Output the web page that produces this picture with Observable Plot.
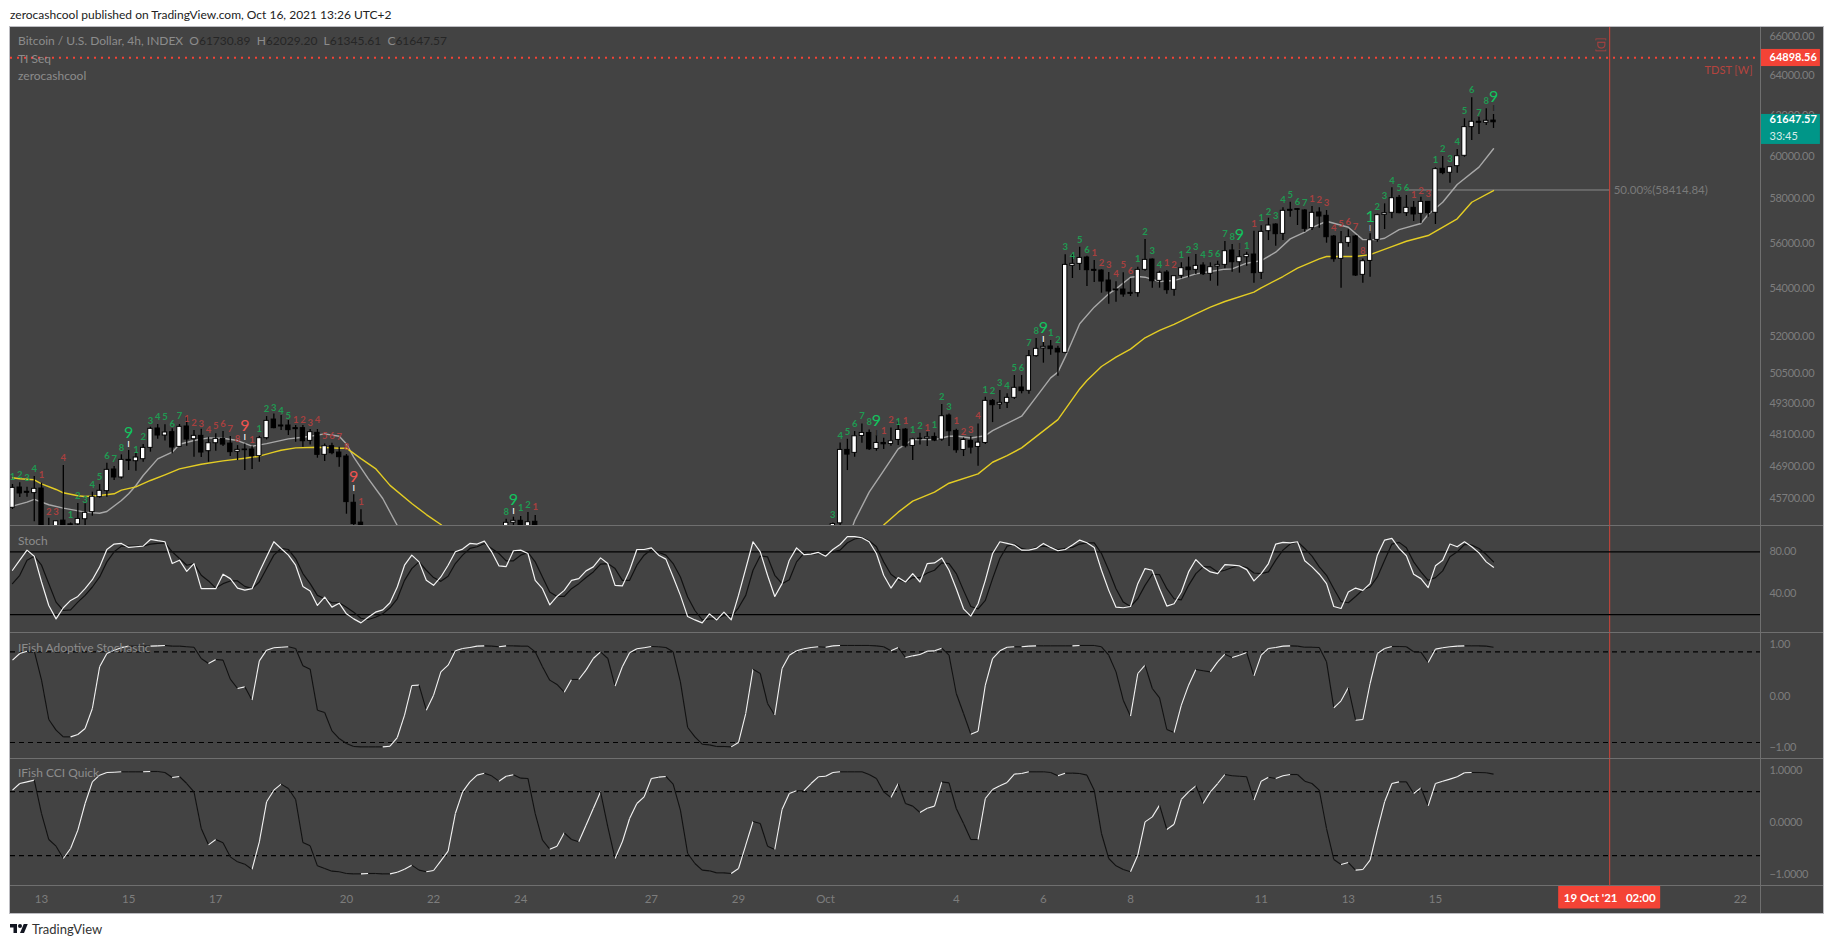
<!DOCTYPE html>
<html><head><meta charset="utf-8">
<script src="https://cdn.jsdelivr.net/npm/d3@7"></script>
<script src="https://cdn.jsdelivr.net/npm/@observablehq/plot@0.6"></script>
<style>
html,body{margin:0;padding:0;background:#fff;width:1834px;height:948px;overflow:hidden;font-family:Lato,sans-serif}
#chart{position:absolute;left:10px;top:27px;width:1813px;height:886px;background:#434343;outline:1.5px solid #bdbdc2}
.pane{position:absolute;left:0;width:1813px}
.pane svg{display:block;overflow:visible}
.pane svg g[aria-label="y-axis tick label"] text{letter-spacing:-.32px}
.sep{position:absolute;left:0;width:1813px;height:1px;background:#6f6f6f}
.vsep{position:absolute;left:1750px;top:0;width:1px;height:886px;background:#6f6f6f}
.leg{position:absolute;left:8px;color:#8c8c8c;font-size:12px;white-space:pre;line-height:16px}
.leg b{font-weight:400;color:#262626}
#title{position:absolute;left:10px;top:7px;font-size:12px;color:#222;white-space:pre}
#brand{position:absolute;left:10px;top:921px;font-size:13px;color:#333;display:flex;align-items:center;gap:4px}
</style></head><body>
<div id="title">zerocashcool published on TradingView.com, Oct 16, 2021 13:26 UTC+2</div>
<div id="chart"></div>
<div id="brand"><svg width="18" height="14" viewBox="0 0 36 28"><path fill="#131722" d="M14 22H7V11H0V4h14v18zM28 22h-8l7.5-18h8L28 22z"/><circle fill="#131722" cx="20" cy="8" r="4"/></svg><span>TradingView</span></div>
<script>
const barNumbers=[...d3.range(0,49),...d3.range(68,73),...d3.range(113,205)];
const opens=[45367,46105,45948,45900,46069,44650,44500,44907,44774,44774,44956,45210,45754,45972,46770,46475,47130,47080,47155,47582,48321,48052,48180,47620,48398,47911,48039,47457,47758,47924,47745,47432,47520,47520,47268,47950,48666,48436,48436,48334,48334,47847,48154,47319,47645,47406,47256,45549,44835,
44500,44830,44900,44500,44865,
44500,44810,47505,47393,48036,48150,47542,47769,47731,47883,48279,47655,47933,47933,47998,47895,48821,48228,47504,47844,47617,47769,49395,49251,49317,49514,49923,49791,51183,51497,51578,51483,51318,54994,55081,55359,54820,54790,54355,53969,53969,53826,53812,54820,55270,54341,54704,53955,54559,54921,54820,55009,54646,54965,55037,55670,55153,55374,55492,54690,56532,56832,56412,57500,57531,57470,56667,57379,57227,56292,55300,56008,56292,54602,55211,56142,57272,57364,58050,57348,57592,57318,57865,57364,59410,59220,59532,60025,61410,61672,61623,61730.89];
const highs=[46217,46278,46117,46512,46266,44992,44907,46918,44823,45525,45513,45936,46217,47006,46881,47319,47482,47394,47707,48372,48474,48462,48308,48474,48782,48244,48295,47988,48116,48206,48014,47668,47732,47645,48026,48782,48884,48820,48628,48436,48436,48282,48282,47732,47758,47607,47331,45839,45295,
44953,45030,45056,45200,45092,
44820,47769,47908,48203,48497,48266,48049,47946,48344,48561,48318,47946,48138,48176,48150,49251,48886,48292,47959,48010,48497,49540,49448,49804,49672,50401,50401,51416,51908,51756,51825,51592,55478,55522,55818,55418,55226,54820,54704,54298,54690,54428,54936,56157,55300,54762,54791,54573,55125,55374,55492,55125,55125,55197,56068,55934,55670,55596,56532,56772,57120,56862,57592,57850,57545,57500,57652,57592,57470,56337,56517,56592,56337,55300,56412,57303,57774,58515,58157,58157,57880,58081,57880,59456,59992,59518,60328,61820,62860,61900,62310,62029.20];
const lows=[45307,45742,45754,44871,44500,44000,44300,44000,44670,44670,44730,45065,45718,45754,46364,46414,46733,46709,47043,47419,47911,47847,47356,47595,47645,47231,47218,47043,47457,47632,47256,47105,46733,46770,47043,47886,48308,48244,48052,47796,47607,47694,47193,47068,47319,46856,45137,44700,44400,
44300,44730,44300,44300,44300,
44300,44725,46731,47228,47756,47479,47454,47517,47643,47668,47580,47103,47693,47630,47819,47832,47630,47378,47254,47353,46892,47706,48548,49056,49095,49448,49672,49659,51142,50898,51224,50375,51277,54443,54790,54098,54269,53812,53343,53428,53641,53669,53641,54762,54026,54026,53770,53683,54428,54472,54617,54573,54326,54112,54863,54718,54675,54980,54240,54399,56112,55860,56112,57166,56787,56487,56562,56667,55994,55153,54026,55818,54530,54240,54501,56038,56607,57090,57318,57196,56967,56862,57166,56832,59125,58730,59203,59958,60761,61050,61490,61345.61];
const closes=[46093,45888,45912,46057,44600,44300,44883,44400,44750,44968,45186,45767,45984,46758,46475,47130,47093,47218,47582,48308,48052,48167,47595,48385,47898,48039,47406,47758,47924,47707,47419,47507,47495,47268,47950,48615,48334,48398,48257,48295,47834,48180,47319,47645,47381,47231,45573,44786,44550,
44830,44900,44500,44850,44500,
44785,47505,47328,48023,48150,47529,47769,47718,47832,48266,47643,47908,47908,47985,47857,48795,48215,47491,47883,47592,47781,49395,49225,49317,49514,49910,49778,51183,51483,51565,51469,51334,55037,55081,55344,54805,54776,54312,53884,53926,53755,53783,54820,55256,54326,54690,53940,54544,54892,54805,54994,54631,54936,55037,55640,55153,55374,55478,54675,56502,56787,56397,57455,57455,57500,56637,57364,57196,56262,55285,55994,56262,54573,55197,56127,57257,57348,58034,57348,57592,57288,57865,57348,59391,59203,59485,60006,61410,61672,61623,61720,61647.57];

const emaBars=[0,1,3,4,6,7,9,10,12,14,15,17,19,21,23,26,29,32,34,36,37,39,42,44,45,46,48,50,52,55,57,59,62,119,120,122,124,127,129,133,135,137,139,144,147,148,150,152,154,156,158,160,163,165,167,171,172,175,177,180,181,183,185,187,190,192,195,199,201,204];
const emaValues=[46463,46426,46389,46240,46033,45912,45803,45779,45814,45875,46009,46130,46364,46573,46795,46967,47093,47193,47268,47419,47494,47582,47607,47582,47570,47573,47178,46805,46185,45524,45124,44770,44000,44300,44750,45210,45608,45936,46263,46607,47041,47290,47580,48664,49865,50200,50764,51142,51469,51937,52240,52489,52936,53217,53456,53855,54040,54530,54892,55300,55404,55404,55403,55490,55845,56080,56337,57090,57848,58390];
const smaBars=[0,2,3,5,7,10,12,13,15,16,17,18,20,22,23,25,27,29,31,33,35,38,40,41,43,45,46,47,49,51,53,54,115,116,118,120,122,124,127,129,130,132,134,135,139,141,143,144,145,147,149,151,152,154,155,156,158,160,163,165,167,168,170,172,174,176,178,179,181,184,186,188,189,191,194,195,197,199,202,204];
const smaValues=[45428,45573,45670,45477,45355,45210,45173,45234,45633,45875,46178,46549,47167,47419,47720,47860,47962,47950,47860,47645,47745,47924,47988,48026,48116,48026,47732,47231,46435,45705,44733,44370,44170,44906,45936,46731,47542,47895,47895,48023,48036,47959,48049,48240,48795,49540,50307,50535,51142,52517,53217,53783,53998,54501,54530,54501,54312,54355,54646,54747,54849,54863,55110,55226,55596,56187,56487,56695,56980,56710,56155,56155,56215,56605,56877,57286,57848,58668,59485,60363];

const seqBars=[0,1,2,3,4,5,6,7,8,9,10,11,12,13,14,15,16,17,18,19,20,21,22,23,24,25,26,27,28,29,30,31,32,33,34,35,36,37,38,39,40,41,42,43,44,45,46,47,48,68,69,70,71,72,113,114,115,116,117,118,119,120,121,122,123,124,125,126,127,128,129,130,131,132,133,134,135,136,137,138,139,140,141,142,143,144,145,146,147,148,149,150,151,152,153,154,155,156,157,158,159,160,161,162,163,164,165,166,167,168,169,170,171,172,173,174,175,176,177,178,179,180,181,182,183,184,185,186,187,188,189,190,191,192,193,194,195,196,197,198,199,200,201,202,203,204];
const seqCounts=[1,2,3,4,1,2,3,4,1,2,3,4,5,6,7,8,9,1,2,3,4,5,6,7,1,2,3,4,5,6,7,8,9,1,1,2,3,4,5,1,2,3,4,5,6,7,8,9,1,8,9,1,2,1,3,4,5,6,7,8,9,1,2,1,1,1,2,1,1,2,3,1,2,3,4,1,2,3,4,5,6,7,8,9,1,2,3,4,5,6,1,2,3,4,5,6,1,2,3,4,1,2,1,2,3,4,5,6,7,8,9,1,1,1,2,3,4,5,6,7,1,2,3,4,5,6,7,8,1,2,3,4,5,6,1,2,3,1,2,3,4,5,6,7,8,9];
const seqPrices=[46512,46573,46451,46795,46573,45234,45210,47193,45113,45791,45646,46203,46499,47268,47167,47582,48154,47507,48001,48615,48756,48756,48487,48795,48692,48538,48487,48270,48436,48487,48295,47924,48436,47886,48308,49096,49135,49018,48823,48667,48666,48538,48641,48052,48052,47988,47607,46487,45573,45211,45668,45344,45463,45380,45110,48054,48176,48497,48795,48561,48600,48215,48638,48574,48612,48266,48407,48344,48459,49540,49147,48600,48189,48266,48795,49830,49791,50108,49989,50706,50706,51729,52213,52351,52143,51853,55818,55433,56142,55700,55566,55110,55037,54646,55037,54762,55285,56502,55655,55037,55125,55037,55463,55685,55833,55478,55522,55522,56412,56292,56382,55860,56862,57120,57409,57227,57958,58190,57848,57820,58005,57940,57820,56680,56845,56936,56740,55635,57195,57620,58125,58855,58500,58500,58205,58390,58240,59835,60345,59880,60680,62190,63260,62095,62690,62890];
const redSeqBars=[4,5,6,7,24,25,26,27,28,29,30,31,32,33,39,40,41,42,43,44,45,46,47,48,72,120,121,123,126,130,131,132,133,149,150,151,152,153,154,159,160,171,179,180,181,182,183,184,185,186,193,194,195];
const bigSeqBars=[16,32,47,69,119,142,169,187,204];
const markBars=[16,32,47,69,119,142,169,187,204];
const markPrices=[47694,47962,46057,45240,48138,51853,55845,56660,62310];
const markTones=["#fff","#fff","#fff","#fff","#222","#fff","#222","#aaa","#222"];

const stochK=[62.4,72,81.6,75.8,51.2,28.8,16,26.6,33.6,37.4,44.8,53.4,65.6,82.2,87.4,88,84.2,84.8,85.4,91.8,90.6,89.6,68.8,72,61.4,68.8,44.8,44.8,44.8,58.6,54.4,45.4,43.5,44.8,60.8,75.2,89.6,83.2,76.8,67.2,47,42.6,28.8,36.8,27.2,31,20.8,16,12.2,17.6,22.4,24.6,31.4,46.4,67.2,76.8,70.4,52.8,48,56,67.2,80,82.6,88,87.4,90.2,80,66.6,65.9,81,81.6,78.4,52.8,44.8,29.4,37.4,43.2,52.8,54.4,61.8,65.6,74.2,68.8,48,47.4,62.4,82.2,82.2,83.8,76.8,73,56,38.4,18.2,15,12.2,20.8,15,22.4,15,38.4,64,89.6,80,57.6,37.4,49.6,72,83.8,77.4,77.8,79.4,75.8,82.2,87,94.4,94.4,93.4,89.6,78.4,57.6,45.4,55.4,51.2,59.2,51.2,68.8,69.4,74.2,62.4,44.8,25.6,18.6,30.4,52.8,78.4,89.6,88,86.4,81.6,81.6,83.2,88,84.2,81,82.2,86.4,91.2,88.6,84.2,62.4,43.2,27.2,26.6,27.8,49.6,64,62.4,44.8,28.2,30.4,41.6,60.8,72.6,65.6,60.8,59.2,67.8,67.2,66.6,63,52.2,59.2,68.8,87.4,89,88.6,89.6,71.4,65.6,58.6,49.6,27.8,25.9,41.6,45.4,43.2,49.6,76.8,91.2,92.8,83.2,76.2,58.6,54.4,45.8,66.6,72,87.4,84.8,89.6,84.8,79,70.4,65.3];
const stochD=[49.6,57.6,72,75.8,67.2,49.6,32,24,24.6,32,38.4,46.4,56,70.4,80,85.4,85.4,85.4,85.4,87.4,88,88.6,80,73.6,67.2,68.8,57.6,52.2,45.4,49.6,52.2,52.2,47,44.8,51.2,64,76.8,83.2,82.2,73.6,59.2,49.6,38.4,35.2,31.4,31.4,27.2,22.4,16.6,15.4,17.6,20.8,26.6,35.2,52.8,64,70.4,62.4,55.4,51.8,56.6,68.8,76.8,83.2,84.8,88,83.2,78.4,71.4,71.4,76.8,79.4,70.4,56,41.6,37.4,37.4,44.8,49.6,55.4,60.8,68.2,68.8,64,52.8,52.8,67.2,76.8,82.2,79.4,76.8,68.8,56,36.8,24,15,16,16,19.2,18.2,26.6,38.4,62.4,76.2,75.2,57.6,49.6,53.4,70.4,78.4,77.4,78.4,77.8,80,81.6,88.6,92.2,93.8,90.6,84.8,70.4,58.6,53.4,51.2,55.4,55.4,59.8,62.4,69.4,68.8,59.2,43.2,27.8,25.6,33.6,54.4,73.6,85.4,87.4,83.2,81.6,84.2,85.4,84.2,82.2,83.2,84.2,87.4,88.6,88.6,78.4,62.4,44.8,32,27.8,35.2,48,58.6,58.2,44.8,35.2,34.2,48,59.2,65.6,65.6,60.8,62.4,65,66.6,65,59.8,59.2,60.8,72,81.6,87.4,89.6,83.2,75.8,65.6,57.6,44.8,32.6,31.4,37.4,43.8,46.4,56,72,87.4,89,83.8,70.4,60.8,52.8,55.4,61.8,75.2,80,87,86.4,83.2,77.4,70.4];
const ifishStoch=[.699,.828,.874,.874,.311,-.453,-.660,-.790,-.790,-.744,-.628,-.239,.570,.828,.893,.939,.971,.971,.971,.971,.977,.984,.971,.971,.958,.951,.731,.634,.712,.699,.330,.149,.181,-.078,.686,.893,.939,.951,.958,.926,.589,.524,-.272,-.317,-.673,-.822,-.919,-.977,-.984,-.984,-.984,-.984,-.971,-.803,-.369,.207,.214,-.272,.019,.472,.602,.880,.926,.945,.971,.977,.971,.958,.977,.977,.971,.971,.861,.570,.311,.227,.078,.324,.324,.505,.731,.861,.731,.194,.570,.841,.919,.939,.964,.958,.945,.861,.278,-.608,-.790,-.932,-.945,-.977,-.977,-.984,-.900,-.337,.524,.440,-.142,-.369,.537,.796,.880,.919,.945,.958,.951,.977,.984,.984,.984,.984,.984,.977,.958,.880,.945,.751,.783,.809,.874,.880,.932,.796,.052,-.337,-.738,-.680,.214,.731,.880,.951,.958,.958,.971,.977,.977,.977,.977,.977,.977,.984,.984,.984,.958,.796,.472,-.078,-.388,.440,.602,.149,-.032,-.647,-.706,-.175,.214,.518,.492,.472,.667,.816,.751,.796,.848,.395,.796,.926,.945,.971,.977,.971,.951,.951,.945,.667,-.227,-.091,.168,-.466,-.453,.246,.828,.926,.964,.964,.958,.861,.854,.654,.913,.939,.958,.971,.977,.977,.977,.971,.951];
const ifishCci=[.628,.756,.788,.821,.179,-.321,-.449,-.686,-.494,-.141,.372,.788,.917,.968,.974,.981,.981,.981,.981,.987,.987,.968,.872,.891,.756,.596,-.109,-.423,-.321,-.385,-.654,-.750,-.795,-.897,-.365,.404,.628,.744,.660,.449,-.378,-.442,-.827,-.878,-.929,-.942,-.974,-.981,-.981,-.974,-.974,-.981,-.981,-.949,-.891,-.814,-.910,-.942,-.917,-.731,-.545,.179,.596,.788,.917,.955,.904,.801,.897,.923,.859,.853,.179,-.333,-.506,-.449,-.192,-.321,-.365,-.045,.276,.596,-.077,-.686,-.365,.083,.372,.500,.853,.878,.891,.744,.244,-.590,-.782,-.910,-.923,-.962,-.962,-.974,-.878,-.429,.026,-.013,-.449,-.513,.256,.564,.615,.615,.756,.885,.897,.968,.981,.981,.981,.981,.929,.853,.596,.487,.756,.372,.321,.199,.282,.321,.788,.769,.276,-.013,-.321,-.321,.468,.641,.712,.776,.936,.949,.981,.981,.981,.968,.904,.955,.955,.949,.917,.628,-.205,-.686,-.827,-.897,-.942,-.622,.019,.115,.340,-.128,-.026,.449,.596,.712,.372,.596,.756,.929,.904,.897,.885,.436,.801,.878,.853,.904,.929,.929,.801,.756,.628,-.109,-.705,-.801,-.763,-.910,-.897,-.718,-.141,.404,.756,.788,.788,.564,.673,.327,.756,.801,.840,.885,.962,.968,.968,.962,.936];

const priceTicks=[66000,64000,62000,60000,58000,56000,54000,52000,50500,49300,48100,46900,45700];
const stochTicks=[80,40],stochBands=[80,20];
const ifishTicks=[1,0,-1],ifishBands=[.86,-.9];
const cciTicks=[1,0,-1],cciBands=[.6,-.63];
const dayTicks=["2021-09-13","2021-09-15","2021-09-17","2021-09-20","2021-09-22","2021-09-24","2021-09-27","2021-09-29","2021-10-01","2021-10-04","2021-10-06","2021-10-08","2021-10-11","2021-10-13","2021-10-15","2021-10-22"];
const dayLabels=["13","15","17","20","22","24","27","29","Oct","4","6","8","11","13","15","22"];

const FONT="Lato,sans-serif", AXIS="#7d7d7d", RED="#f44336";
const firstBar=Date.UTC(2021,8,12,10), barMs=4*3600e3;
const at=i=>new Date(firstBar+i*barMs);
const xDomain=[new Date("2021-09-12T08:54Z"),new Date("2021-10-22T13:06Z")];
const xScale={type:"utc",domain:xDomain,axis:null};
const cursor=new Date("2021-10-19T02:00Z");
const xEnd=xDomain[1], boxEnd=new Date("2021-10-23T22:06Z");
const W=1813,base={width:W,marginLeft:0,marginRight:63,marginTop:0,marginBottom:0,x:xScale,style:{background:"transparent",fontFamily:FONT,fontSize:"11px",overflow:"visible"}};
const halfBody=1.2*3600e3;

const candles=barNumbers.map((b,k)=>({t:at(b),o:opens[k],h:highs[k],l:lows[k],c:closes[k]}));
const seq=seqBars.map((b,k)=>({t:at(b),n:seqCounts[k],p:seqPrices[k],red:redSeqBars.includes(b),big:bigSeqBars.includes(b)}));
const marks=markBars.map((b,k)=>({t:at(b),p:markPrices[k],tone:markTones[k]}));
const ema=emaBars.map((b,k)=>({t:at(b),v:emaValues[k]}));
const sma=smaBars.map((b,k)=>({t:at(b),v:smaValues[k]}));
const axisRight=(ticks,fmt)=>Plot.axisY(ticks,{anchor:"right",tickSize:0,tickPadding:9,tickFormat:fmt,fill:AXIS,fontSize:11,label:null,textStroke:"none"});

const main=Plot.plot({...base,height:498,
  y:{type:"log",domain:[44733,66474],axis:null},
  marks:[
    axisRight(priceTicks,d3.format(".2f")),
    Plot.ruleX([cursor],{stroke:RED,strokeOpacity:.8,strokeWidth:1}),
    Plot.ruleY([58414.84],{x1:new Date("2021-10-14T10:00Z"),x2:cursor,stroke:"#8b8b8b",strokeWidth:1}),
    Plot.lineY(sma,{x:"t",y:"v",stroke:"#a8a8a8",strokeWidth:1.4,clip:true}),
    Plot.lineY(ema,{x:"t",y:"v",stroke:"#e4cd24",strokeWidth:1.4,clip:true}),
    Plot.ruleX(candles,{x:"t",y1:"l",y2:"h",stroke:"#000",strokeWidth:1.3,clip:true}),
    Plot.rect(candles,{x1:d=>new Date(+d.t-halfBody),x2:d=>new Date(+d.t+halfBody),y1:"o",y2:"c",fill:d=>d.c>=d.o?"#fff":"#000",stroke:"#000",strokeWidth:1,clip:true}),
    Plot.text(seq.filter(d=>!d.big),{x:"t",y:"p",text:"n",fill:d=>d.red?"#a8403f":"#1f9a52",fontSize:9.5,fontWeight:700,clip:true}),
    Plot.text(seq.filter(d=>d.big),{x:"t",y:"p",text:"n",fill:d=>d.red?"#ef5350":"#12c45f",fontSize:16,clip:true}),
    Plot.text(marks,{x:"t",y:"p",text:()=>"I",fill:"tone",fontSize:7,fontWeight:700,clip:true}),
    Plot.ruleY([64898.56],{x1:xDomain[0],x2:xEnd,stroke:RED,strokeWidth:2,strokeDasharray:"2,5"}),
    Plot.rect([0],{x1:xEnd,x2:boxEnd,y1:[65324],y2:[64441],fill:RED}),
    Plot.text(["64898.56"],{x:xEnd,y:[64898.56],dx:9,textAnchor:"start",fill:"#fff",fontSize:11,fontWeight:700}),
    Plot.rect([0],{x1:xEnd,x2:boxEnd,y1:[62033],y2:[60570],fill:"#009688"}),
    Plot.text(["61647.57"],{x:xEnd,y:[61900-300],dx:9,textAnchor:"start",fill:"#fff",fontSize:11,fontWeight:700,dy:-4}),
    Plot.text(["33:45"],{x:xEnd,y:[60950],dx:9,textAnchor:"start",fill:"#d6ece9",fontSize:11}),
    Plot.text(["TDST [W]"],{x:xEnd,y:[64220],dx:-8,textAnchor:"end",fill:"#b5433e",fontSize:11}),
    Plot.text(["[D]"],{x:cursor,y:[65560],dx:-9,rotate:90,fill:"#a8403f",fontSize:11}),
    Plot.text(["50.00%(58414.84)"],{x:cursor,y:[58414.84],dx:4,textAnchor:"start",fill:"#7a7a7a",fontSize:11.5})
  ]});

const stochPane=Plot.plot({...base,height:107,
  y:{domain:[3,105.1],axis:null},
  marks:[
    axisRight(stochTicks,d3.format(".2f")),
    Plot.ruleX([cursor],{stroke:RED,strokeOpacity:.8}),
    Plot.ruleY(stochBands,{stroke:"#000",strokeWidth:1.2,x1:xDomain[0],x2:xEnd}),
    Plot.lineY(stochD,{x:(d,i)=>at(i),y:d=>d,stroke:"#111",strokeWidth:1.2}),
    Plot.lineY(stochK,{x:(d,i)=>at(i),y:d=>d,stroke:"#f4f4f4",strokeWidth:1.2})
  ]});

const fisher=(values,ticks,fmt,bands,domain,h)=>Plot.plot({...base,height:h,
  y:{domain,axis:null},
  marks:[
    axisRight(ticks,d3.format(fmt)),
    Plot.ruleX([cursor],{stroke:RED,strokeOpacity:.8}),
    Plot.ruleY(bands,{stroke:"#000",strokeWidth:1.1,strokeDasharray:"5,4",x1:xDomain[0],x2:xEnd}),
    Plot.link(d3.pairs(values.map((v,i)=>({t:at(i),v}))),{x1:d=>d[0].t,y1:d=>d[0].v,x2:d=>d[1].t,y2:d=>d[1].v,stroke:d=>d[1].v>d[0].v?"#f4f4f4":"#111",strokeWidth:1.1})
  ]});
const ifishPane=fisher(ifishStoch,ifishTicks,".2f",ifishBands,[-1.21,1.236],126);
const cciPane=fisher(ifishCci,cciTicks,".4f",cciBands,[-1.205,1.237],127);

const timePane=Plot.plot({...base,height:27,
  y:{domain:[0,1],axis:null},
  marks:[
    Plot.ruleX([cursor],{y1:.2,y2:1,stroke:RED,strokeOpacity:.8}),
    Plot.text(dayLabels,{x:(d,i)=>new Date(dayTicks[i]+"T02:00Z"),y:()=>.5,text:d=>d,fill:AXIS,fontSize:11.5}),
    Plot.rect([0],{x1:new Date("2021-10-17T21:54Z"),x2:new Date("2021-10-20T06:06Z"),y1:[.13],y2:[1],fill:RED,rx:1}),
    Plot.text(["19 Oct '21   02:00"],{x:cursor,y:[.52],fill:"#fff",fontSize:11.5,fontWeight:700})
  ]});

const host=document.getElementById("chart");
[[main,0],[stochPane,498],[ifishPane,605],[cciPane,731],[timePane,858]].forEach(([el,top])=>{
  const d=document.createElement("div");d.className="pane";d.style.top=top+"px";d.appendChild(el);host.appendChild(d);
});
[498,605,731,858].forEach(y=>{const s=document.createElement("div");s.className="sep";s.style.top=y+"px";host.appendChild(s);});
const v=document.createElement("div");v.className="vsep";host.appendChild(v);
const leg=(top,html)=>{const d=document.createElement("div");d.className="leg";d.style.top=top+"px";d.innerHTML=html;host.appendChild(d);};
leg(6,"Bitcoin / U.S. Dollar, 4h, INDEX  O<b>61730.89</b>  H<b>62029.20</b>  L<b>61345.61</b>  C<b>61647.57</b>");
leg(24,"TI Seq");leg(41,"zerocashcool");
leg(506,"Stoch");leg(613,"IFish Adoptive Stochastic");leg(738,"IFish CCI Quick");
</script>
</body></html>
